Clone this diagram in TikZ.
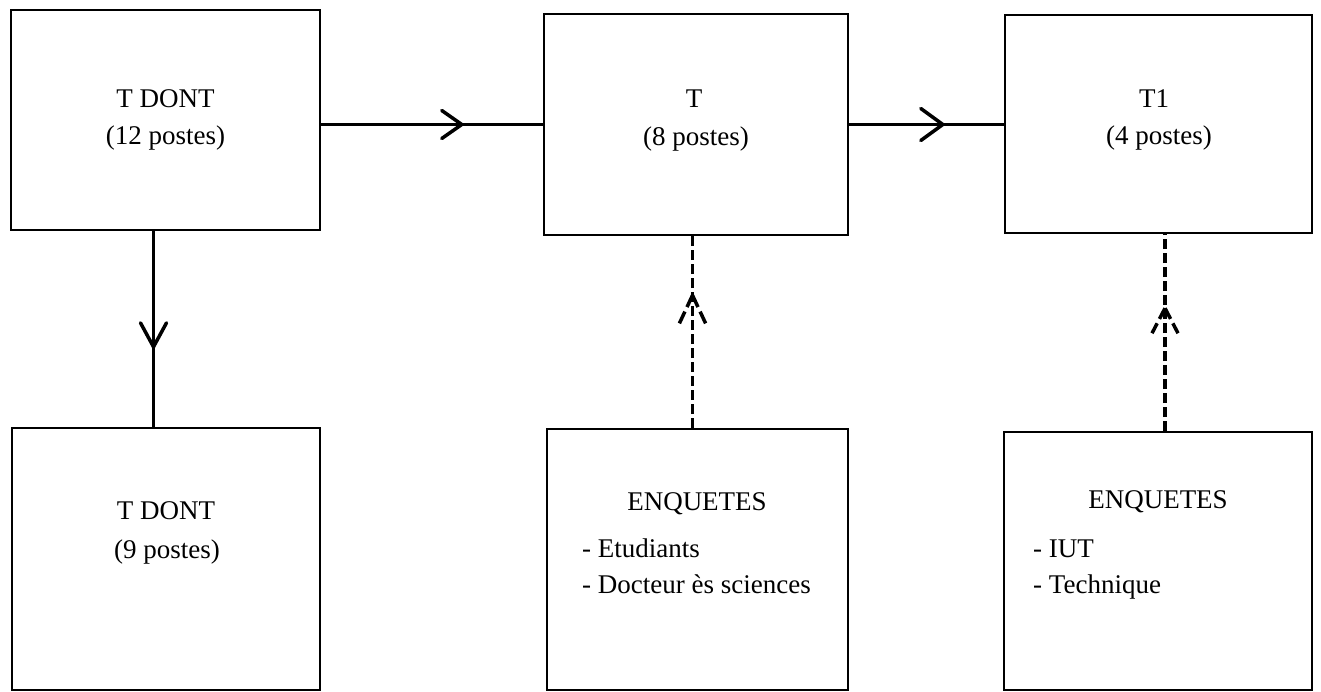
\documentclass[tikz,border=0pt]{standalone}
\usepackage{fontspec}
\setmainfont{Liberation Serif}
\usetikzlibrary{decorations.markings,calc}
\begin{document}
\begin{tikzpicture}[x=1pt,y=-1pt,
  box/.style={draw, line width=1.8pt, inner sep=0pt},
  lbl/.style={font=\fontsize{27}{37}\selectfont, inner sep=0pt},
  conn/.style={line width=3pt},
  dconn/.style={line width=3.5pt, dash pattern=on 10pt off 4pt},
  headmark/.style 2 args={postaction={decorate}, decoration={markings,
     mark=at position #1 with {#2}}}
]
\useasboundingbox (0,0) rectangle (1321,692);
% boxes
\node[box, minimum width=309pt, minimum height=220pt] (A) at (165.5,120) {};
\node[box, minimum width=304pt, minimum height=221pt] (B) at (696,124.5) {};
\node[box, minimum width=307pt, minimum height=218pt] (C) at (1158.5,124) {};
\node[box, minimum width=308pt, minimum height=262pt] (D) at (166,559) {};
\node[box, minimum width=301pt, minimum height=261pt] (E) at (697.5,559.5) {};
\node[box, minimum width=308pt, minimum height=258pt] (F) at (1158,561) {};
% texts
\node[lbl, anchor=base] (tA1) at (165.5,108) {T DONT};
\node[lbl, anchor=base] (tA2) at (165.5,145) {(12 postes)};
\node[lbl, anchor=base] (tB1) at (694,108) {T};
\node[lbl, anchor=base] (tB2) at (696,146) {(8 postes)};
\node[lbl, anchor=base] (tC1) at (1154,108) {T1};
\node[lbl, anchor=base] (tC2) at (1159,145) {(4 postes)};
\node[lbl, anchor=base] (tD1) at (166,519) {T DONT};
\node[lbl, anchor=base] (tD2) at (167,558) {(9 postes)};
\node[lbl, anchor=base] (tE1) at (697,510) {ENQUETES};
\node[lbl, anchor=base west] (tE2) at (582,557) {- Etudiants};
\node[lbl, anchor=base west] (tE3) at (582,593) {- Docteur ès sciences};
\node[lbl, anchor=base] (tF1) at (1158,508) {ENQUETES};
\node[lbl, anchor=base west] (tF2) at (1033,557) {- IUT};
\node[lbl, anchor=base west] (tF3) at (1033,593) {- Technique};
% connectors
\draw[conn, headmark={0.634}{\draw[line width=3.5pt, line cap=round] (-20pt,-14pt) -- (0,0) -- (-20pt,14pt);}]
  (A.east |- B.west) -- (B.west);
\draw[conn, headmark={0.605}{\draw[line width=3.5pt, line cap=round] (-22pt,-16pt) -- (0,0) -- (-22pt,16pt);}]
  (B.east) -- (C.west |- B.east);
\draw[conn, headmark={0.591}{\draw[line width=3.5pt, line cap=round] (-24pt,-13pt) -- (0,0) -- (-24pt,13pt);}]
  ([xshift=-12pt]A.south) -- ([xshift=-12pt]A.south |- D.north);
\draw[dconn, headmark={0.691}{\draw[line width=3.5pt, dash pattern=on 13pt off 5pt] (0,0) -- (-30pt,-14pt) (0,0) -- (-30pt,14pt);}]
  ([xshift=-5pt]E.north) -- ([xshift=-5pt]E.north |- B.south);
\draw[dconn, headmark={0.623}{\draw[line width=3.5pt, dash pattern=on 12pt off 5pt] (0,0) -- (-25pt,-13pt) (0,0) -- (-25pt,13pt);}]
  ([xshift=7pt]F.north) -- ([xshift=7pt]F.north |- C.south);
\end{tikzpicture}
\end{document}
